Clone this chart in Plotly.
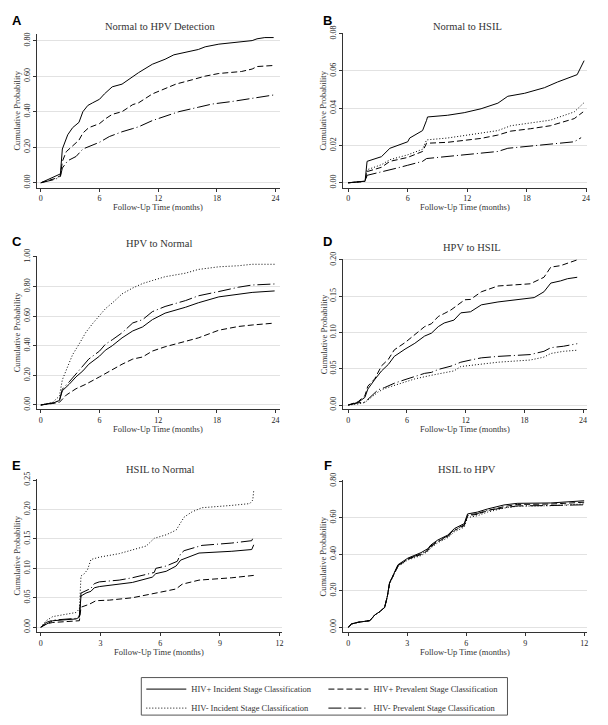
import plotly.graph_objects as go

# ---------------- DATA ----------------
series_names = ["HIV+ Incident Stage Classification", "HIV+ Prevalent Stage Classification",
                "HIV- Incident Stage Classification", "HIV- Prevalent Stage Classification"]
panel_titles = ["Normal to HPV Detection", "Normal to HSIL", "HPV to Normal",
                "HPV to HSIL", "HSIL to Normal", "HSIL to HPV"]
panel_letters = ["A", "B", "C", "D", "E", "F"]
x_title = "Follow-Up Time (months)"
y_title = "Cumulative Probability"

# Panel A: Normal to HPV Detection
a_pos_inc_x = [0, 0.5, 1.0, 1.5, 2.0, 2.2, 2.75, 3.25, 3.9, 4.3, 4.8, 5.3, 6.0, 6.5, 7.3, 8.3, 9.4, 10.0, 11.4, 12.7, 13.6, 16.1, 16.8, 18.2, 21.6, 22.1, 22.9, 23.8]
a_pos_inc_y = [0, 0.012, 0.028, 0.04, 0.05, 0.19, 0.27, 0.31, 0.34, 0.40, 0.435, 0.45, 0.47, 0.50, 0.54, 0.555, 0.60, 0.62, 0.667, 0.695, 0.72, 0.75, 0.765, 0.78, 0.80, 0.81, 0.817, 0.817]
a_pos_prev_x = [0, 0.5, 1.0, 1.5, 2.0, 2.2, 2.6, 3.1, 3.9, 4.3, 4.9, 6.0, 6.6, 7.3, 8.3, 9.4, 10.0, 11.4, 12.7, 13.8, 15.5, 16.8, 18.2, 20.5, 21.6, 22.1, 23.8]
a_pos_prev_y = [0, 0.008, 0.02, 0.025, 0.04, 0.12, 0.175, 0.20, 0.24, 0.28, 0.31, 0.333, 0.36, 0.385, 0.40, 0.44, 0.45, 0.50, 0.53, 0.555, 0.58, 0.60, 0.615, 0.626, 0.64, 0.654, 0.66]
a_neg_prev_x = [0, 0.5, 1.0, 1.5, 2.0, 2.2, 2.75, 3.6, 4.3, 4.9, 6.0, 7.0, 8.3, 9.4, 10.0, 11.4, 12.7, 14.1, 16.1, 17.5, 19.5, 21.6, 22.6, 23.8]
a_neg_prev_y = [0, 0.006, 0.016, 0.02, 0.035, 0.083, 0.124, 0.148, 0.19, 0.204, 0.228, 0.26, 0.287, 0.305, 0.315, 0.35, 0.376, 0.40, 0.425, 0.443, 0.457, 0.476, 0.487, 0.494]

# Panel B: Normal to HSIL
b_pos_inc_x = [0, 1.7, 1.9, 2.7, 3.35, 4.2, 5.0, 6.0, 6.2, 7.5, 7.9, 8.0, 10.0, 11.7, 13.4, 15.1, 16.1, 17.8, 19.8, 21.1, 23.1, 23.8]
b_pos_inc_y = [0, 0.0009, 0.0115, 0.0129, 0.014, 0.0185, 0.020, 0.022, 0.024, 0.028, 0.0335, 0.0353, 0.0362, 0.0376, 0.0397, 0.0427, 0.0464, 0.048, 0.051, 0.054, 0.058, 0.0655]
b_pos_prev_x = [0, 1.7, 1.9, 3.35, 4.2, 6.0, 7.5, 7.9, 10.0, 13.4, 15.1, 16.4, 18.4, 20.4, 22.8, 23.7]
b_pos_prev_y = [0, 0.0008, 0.006, 0.0083, 0.0115, 0.0136, 0.0168, 0.0212, 0.0217, 0.0238, 0.0256, 0.0277, 0.029, 0.0306, 0.0344, 0.038]
b_neg_inc_x = [0, 1.7, 1.9, 3.35, 4.2, 6.0, 7.5, 7.9, 10.0, 13.4, 15.1, 16.4, 18.4, 20.4, 22.8, 23.8]
b_neg_inc_y = [0, 0.0008, 0.007, 0.0097, 0.0124, 0.015, 0.018, 0.023, 0.024, 0.0265, 0.028, 0.0306, 0.032, 0.0336, 0.038, 0.043]
b_neg_prev_x = [0, 1.7, 1.9, 3.35, 5.0, 6.0, 7.5, 7.9, 10.0, 13.4, 15.1, 16.1, 18.4, 20.4, 22.8, 23.5]
b_neg_prev_y = [0, 0.0007, 0.004, 0.0057, 0.008, 0.0094, 0.0115, 0.013, 0.014, 0.016, 0.0168, 0.0185, 0.0198, 0.0207, 0.022, 0.0242]

# Panel C: HPV to Normal
c_pos_inc_x = [0, 0.6, 1.2, 1.9, 2.2, 2.9, 3.6, 4.3, 4.9, 6.0, 6.6, 7.3, 8.3, 9.4, 10.4, 11.4, 12.7, 14.8, 16.1, 18.2, 20.2, 21.6, 23.9]
c_pos_inc_y = [0, 0.005, 0.012, 0.03, 0.096, 0.14, 0.19, 0.23, 0.275, 0.33, 0.37, 0.40, 0.453, 0.50, 0.527, 0.576, 0.62, 0.66, 0.69, 0.73, 0.75, 0.76, 0.77]
c_pos_prev_x = [0, 0.6, 1.2, 1.9, 2.6, 3.6, 4.6, 6.0, 7.3, 8.3, 9.4, 10.4, 11.4, 12.7, 14.8, 16.1, 18.2, 20.2, 21.6, 23.9]
c_pos_prev_y = [0, 0.004, 0.01, 0.018, 0.067, 0.11, 0.14, 0.19, 0.24, 0.275, 0.31, 0.324, 0.364, 0.393, 0.43, 0.453, 0.505, 0.53, 0.54, 0.553]
c_neg_inc_x = [0, 0.6, 1.2, 1.9, 2.2, 2.75, 3.25, 3.9, 4.6, 5.3, 6.0, 6.6, 7.5, 8.3, 9.4, 10.4, 11.4, 12.7, 14.8, 16.1, 18.2, 20.2, 21.6, 23.9]
c_neg_inc_y = [0, 0.008, 0.018, 0.06, 0.17, 0.26, 0.34, 0.41, 0.49, 0.55, 0.60, 0.65, 0.70, 0.75, 0.79, 0.82, 0.84, 0.866, 0.89, 0.915, 0.933, 0.94, 0.95, 0.95]
c_neg_prev_x = [0, 0.6, 1.2, 1.9, 2.2, 2.9, 3.6, 4.3, 4.9, 6.0, 6.6, 7.3, 8.3, 9.4, 10.4, 11.4, 12.7, 14.8, 16.1, 18.2, 20.2, 21.6, 23.9]
c_neg_prev_y = [0, 0.006, 0.014, 0.03, 0.107, 0.156, 0.21, 0.26, 0.31, 0.364, 0.41, 0.44, 0.487, 0.554, 0.576, 0.63, 0.665, 0.705, 0.737, 0.766, 0.795, 0.81, 0.817]

# Panel D: HPV to HSIL
d_pos_inc_x = [0, 1.0, 1.7, 2.0, 2.7, 3.4, 4.1, 4.7, 5.8, 6.8, 7.8, 8.5, 9.2, 9.8, 10.8, 11.5, 12.5, 13.6, 15.3, 19.0, 20.0, 20.7, 21.7, 22.4, 23.4]
d_pos_inc_y = [0, 0.0036, 0.0105, 0.022, 0.035, 0.047, 0.056, 0.067, 0.077, 0.085, 0.095, 0.099, 0.108, 0.113, 0.117, 0.127, 0.1285, 0.138, 0.142, 0.148, 0.156, 0.168, 0.171, 0.174, 0.176]
d_pos_prev_x = [0, 1.0, 1.7, 2.0, 2.7, 3.4, 4.1, 4.7, 5.8, 6.8, 7.8, 8.5, 9.2, 9.8, 10.5, 11.2, 11.9, 12.5, 13.6, 15.3, 18.6, 20.0, 20.7, 21.7, 23.4]
d_pos_prev_y = [0, 0.0045, 0.013, 0.026, 0.036, 0.054, 0.063, 0.076, 0.086, 0.097, 0.108, 0.112, 0.122, 0.126, 0.131, 0.138, 0.145, 0.1455, 0.156, 0.164, 0.167, 0.176, 0.19, 0.192, 0.20]
d_neg_inc_x = [0, 1.0, 1.7, 2.4, 3.05, 3.7, 4.7, 5.8, 6.8, 8.5, 9.8, 10.8, 11.5, 12.5, 13.6, 15.3, 18.6, 20.0, 20.7, 22.0, 23.4]
d_neg_inc_y = [0, 0.0014, 0.0036, 0.0105, 0.018, 0.0227, 0.027, 0.032, 0.036, 0.041, 0.0445, 0.047, 0.053, 0.0545, 0.057, 0.059, 0.062, 0.066, 0.071, 0.074, 0.0755]
d_neg_prev_x = [0, 1.0, 1.7, 2.4, 3.05, 3.7, 4.7, 5.8, 6.8, 7.8, 8.5, 9.2, 10.5, 11.5, 12.5, 13.6, 15.3, 18.6, 20.0, 20.7, 22.0, 23.4]
d_neg_prev_y = [0, 0.003, 0.004, 0.0127, 0.021, 0.024, 0.030, 0.035, 0.039, 0.0436, 0.045, 0.049, 0.0536, 0.059, 0.062, 0.065, 0.067, 0.0695, 0.074, 0.079, 0.081, 0.0845]

# Panel E: HSIL to Normal
e_pos_inc_x = [0, 0.27, 0.6, 1.77, 1.94, 2.02, 2.27, 2.52, 2.69, 2.94, 4.6, 5.6, 5.78, 6.3, 6.8, 7.03, 7.95, 9.6, 10.6, 10.7]
e_pos_inc_y = [0, 0.0056, 0.011, 0.014, 0.017, 0.053, 0.058, 0.061, 0.067, 0.069, 0.076, 0.085, 0.091, 0.095, 0.104, 0.114, 0.126, 0.129, 0.132, 0.14]
e_pos_prev_x = [0, 0.27, 0.6, 1.94, 2.02, 2.44, 2.77, 3.44, 4.6, 5.6, 6.3, 6.8, 7.1, 7.95, 9.6, 10.7]
e_pos_prev_y = [0, 0.0056, 0.008, 0.011, 0.034, 0.039, 0.045, 0.046, 0.05, 0.056, 0.0615, 0.065, 0.073, 0.08, 0.084, 0.088]
e_neg_inc_x = [0, 0.27, 0.6, 1.27, 1.77, 1.94, 2.02, 2.19, 2.35, 2.52, 2.94, 3.94, 4.6, 5.3, 5.7, 6.3, 6.8, 7.2, 7.6, 8.1, 9.6, 10.5, 10.65, 10.7]
e_neg_inc_y = [0, 0.011, 0.018, 0.022, 0.025, 0.031, 0.087, 0.091, 0.098, 0.115, 0.119, 0.125, 0.131, 0.138, 0.151, 0.157, 0.165, 0.187, 0.196, 0.203, 0.207, 0.21, 0.216, 0.232]
e_neg_prev_x = [0, 0.27, 0.6, 1.77, 1.94, 2.02, 2.27, 2.52, 2.69, 2.94, 3.94, 4.6, 5.7, 5.78, 6.3, 6.86, 7.03, 7.2, 8.1, 9.6, 10.6, 10.7]
e_neg_prev_y = [0, 0.008, 0.012, 0.015, 0.02, 0.058, 0.062, 0.066, 0.074, 0.077, 0.08, 0.084, 0.093, 0.1, 0.104, 0.112, 0.125, 0.13, 0.139, 0.143, 0.147, 0.155]

# Panel F: HSIL to HPV
f_pos_inc_x = [0, 0.17, 0.5, 1.1, 1.35, 1.6, 1.85, 1.99, 2.1, 2.36, 2.53, 3.03, 3.3, 3.7, 4.05, 4.2, 4.55, 5.06, 5.4, 5.73, 5.9, 6.07, 6.57, 7.08, 7.92, 8.6, 10.3, 12.0]
f_pos_inc_y = [0, 0.018, 0.027, 0.036, 0.067, 0.085, 0.108, 0.17, 0.243, 0.306, 0.342, 0.378, 0.39, 0.408, 0.43, 0.45, 0.477, 0.504, 0.54, 0.558, 0.567, 0.62, 0.63, 0.647, 0.669, 0.678, 0.68, 0.692]
f_pos_prev_x = [0, 0.17, 0.5, 1.1, 1.35, 1.6, 1.85, 1.99, 2.1, 2.36, 2.53, 3.03, 3.3, 3.7, 4.05, 4.2, 4.55, 5.06, 5.4, 5.73, 5.9, 6.07, 6.57, 7.08, 7.92, 8.6, 10.3, 12.0]
f_pos_prev_y = [0, 0.018, 0.027, 0.036, 0.067, 0.085, 0.108, 0.17, 0.24, 0.30, 0.335, 0.372, 0.383, 0.398, 0.42, 0.44, 0.468, 0.496, 0.53, 0.55, 0.556, 0.61, 0.618, 0.638, 0.66, 0.672, 0.674, 0.684]
f_neg_inc_x = [0, 0.17, 0.5, 1.1, 1.35, 1.6, 1.85, 1.99, 2.1, 2.36, 2.53, 3.03, 3.3, 3.7, 4.05, 4.2, 4.55, 5.06, 5.4, 5.73, 5.9, 6.07, 6.57, 7.08, 7.92, 8.6, 10.3, 12.0]
f_neg_inc_y = [0, 0.018, 0.027, 0.036, 0.067, 0.085, 0.108, 0.168, 0.238, 0.298, 0.332, 0.368, 0.378, 0.392, 0.415, 0.434, 0.462, 0.49, 0.522, 0.54, 0.548, 0.60, 0.61, 0.63, 0.652, 0.662, 0.665, 0.675]
f_neg_prev_x = [0, 0.17, 0.5, 1.1, 1.35, 1.6, 1.85, 1.99, 2.1, 2.36, 2.53, 3.03, 3.3, 3.7, 4.05, 4.2, 4.55, 5.06, 5.4, 5.73, 5.9, 6.07, 6.57, 7.08, 7.92, 8.6, 10.3, 12.0]
f_neg_prev_y = [0, 0.018, 0.027, 0.036, 0.067, 0.085, 0.108, 0.17, 0.242, 0.303, 0.338, 0.374, 0.386, 0.402, 0.425, 0.444, 0.472, 0.5, 0.534, 0.552, 0.56, 0.615, 0.622, 0.64, 0.655, 0.664, 0.666, 0.67]

x_ticks_24 = [0, 6, 12, 18, 24]
x_ticks_12 = [0, 3, 6, 9, 12]
y_ticks_a = [0.0, 0.2, 0.4, 0.6, 0.8]
y_ticks_b = [0.0, 0.02, 0.04, 0.06, 0.08]
y_ticks_c = [0.0, 0.2, 0.4, 0.6, 0.8, 1.0]
y_ticks_d = [0.0, 0.05, 0.10, 0.15, 0.20]
y_ticks_e = [0.0, 0.05, 0.10, 0.15, 0.20, 0.25]
y_ticks_f = [0.0, 0.2, 0.4, 0.6, 0.8]

# ---------------- STYLE ----------------
W, H = 608, 725
SERIF = "Liberation Serif"
SANS = "Liberation Sans"
dash_styles = {0: "solid", 1: "6px,3px", 2: "1px,2px", 3: "13px,3px,1px,3px"}
legend_of = {0: "legend", 2: "legend", 1: "legend2", 3: "legend2"}

panels = [
    ([(0, a_pos_inc_x, a_pos_inc_y), (1, a_pos_prev_x, a_pos_prev_y), (3, a_neg_prev_x, a_neg_prev_y)],
     x_ticks_24, y_ticks_a, (37, 281), (27, 183), [-0.41, 24.41], [-0.0278, 0.839]),
    ([(0, b_pos_inc_x, b_pos_inc_y), (1, b_pos_prev_x, b_pos_prev_y), (2, b_neg_inc_x, b_neg_inc_y), (3, b_neg_prev_x, b_neg_prev_y)],
     x_ticks_24, y_ticks_b, (345, 590), (26, 183), [-0.50, 24.1], [-0.00265, 0.0805]),
    ([(0, c_pos_inc_x, c_pos_inc_y), (1, c_pos_prev_x, c_pos_prev_y), (2, c_neg_inc_x, c_neg_inc_y), (3, c_neg_prev_x, c_neg_prev_y)],
     x_ticks_24, y_ticks_c, (37, 281), (252, 407), [-0.41, 24.41], [-0.0267, 1.0067]),
    ([(0, d_pos_inc_x, d_pos_inc_y), (1, d_pos_prev_x, d_pos_prev_y), (2, d_neg_inc_x, d_neg_inc_y), (3, d_neg_prev_x, d_neg_prev_y)],
     x_ticks_24, y_ticks_d, (345, 590), (255, 407), [-0.51, 24.41], [-0.0054, 0.2014]),
    ([(0, e_pos_inc_x, e_pos_inc_y), (1, e_pos_prev_x, e_pos_prev_y), (2, e_neg_inc_x, e_neg_inc_y), (3, e_neg_prev_x, e_neg_prev_y)],
     x_ticks_12, y_ticks_e, (37, 283), (478, 633), [-0.2, 12.1], [-0.0084, 0.2517]),
    ([(0, f_pos_inc_x, f_pos_inc_y), (1, f_pos_prev_x, f_pos_prev_y), (2, f_neg_inc_x, f_neg_inc_y), (3, f_neg_prev_x, f_neg_prev_y)],
     x_ticks_12, y_ticks_f, (345, 590), (479, 633), [-0.253, 12.15], [-0.027, 0.8054]),
]

title_pos = [(161, 20), (470, 20), (160, 239), (474, 244), (161, 468), (469, 468)]
letter_pos = [(17, 14), (329, 14), (17, 237), (329, 237), (17, 464), (330, 464)]

fig = go.Figure()
layout = dict(
    width=W, height=H, margin=dict(l=0, r=0, t=0, b=0),
    paper_bgcolor="white", plot_bgcolor="white",
    font=dict(family=SERIF, size=8, color="#222"),
    showlegend=True,
)
annotations = []

for i, (series, xt, yt, xpx, ypx, xr, yr) in enumerate(panels):
    n = i + 1
    xa = "x" if n == 1 else f"x{n}"
    ya = "y" if n == 1 else f"y{n}"
    for idx, xs, ys in series:
        fig.add_trace(go.Scatter(
            x=xs, y=ys, mode="lines", xaxis=xa, yaxis=ya,
            name=series_names[idx], legend=legend_of[idx],
            showlegend=(n == 2), legendrank=idx + 1,
            line=dict(color="black", width=1, dash=dash_styles[idx]),
            hoverinfo="skip",
        ))
    xkey = "xaxis" if n == 1 else f"xaxis{n}"
    ykey = "yaxis" if n == 1 else f"yaxis{n}"
    layout[xkey] = dict(
        domain=[xpx[0] / W, xpx[1] / W], anchor=ya, range=xr,
        tickvals=xt, ticktext=[str(v) for v in xt],
        showgrid=False, zeroline=False, showline=True, linecolor="#333", linewidth=1,
        ticks="outside", ticklen=3, tickcolor="#333", tickwidth=1,
        tickfont=dict(family=SERIF, size=8, color="#222"),
    )
    layout[ykey] = dict(
        domain=[1 - ypx[1] / H, 1 - ypx[0] / H], anchor=xa, range=yr,
        tickvals=yt, tickformat=".2f", tickangle=-90,
        showgrid=True, gridcolor="#e2e2e2", gridwidth=1,
        zeroline=False, showline=True, linecolor="#333", linewidth=1,
        ticks="outside", ticklen=3, tickcolor="#333", tickwidth=1,
        tickfont=dict(family=SERIF, size=8, color="#222"),
    )
    tx, ty = title_pos[i]
    annotations.append(dict(text=panel_titles[i], x=tx / W, y=1 - ty / H, xref="paper", yref="paper",
                            showarrow=False, xanchor="center", yanchor="middle",
                            font=dict(family=SERIF, size=10.5, color="#333")))
    lx, ly = letter_pos[i]
    annotations.append(dict(text="<b>" + panel_letters[i] + "</b>", x=lx / W, y=1 - ly / H,
                            xref="paper", yref="paper", showarrow=False,
                            xanchor="center", yanchor="middle",
                            font=dict(family=SANS, size=13, color="black")))
    cx = (xpx[0] + xpx[1]) / 2
    annotations.append(dict(text=x_title, x=cx / W, y=1 - (ypx[1] + 20) / H, xref="paper", yref="paper",
                            showarrow=False, xanchor="center", yanchor="middle",
                            font=dict(family=SERIF, size=8.5, color="#333")))
    cy = (ypx[0] + ypx[1]) / 2
    annotations.append(dict(text=y_title, x=(xpx[0] - 20) / W, y=1 - cy / H, xref="paper", yref="paper",
                            showarrow=False, xanchor="center", yanchor="middle", textangle=-90,
                            font=dict(family=SERIF, size=8.5, color="#333")))

layout["annotations"] = annotations
legend_common = dict(
    orientation="v", xanchor="left", yanchor="top",
    borderwidth=0, bgcolor="rgba(0,0,0,0)",
    font=dict(family=SERIF, size=8.5, color="#333"),
    tracegroupgap=0, itemwidth=40, traceorder="normal",
)
layout["legend"] = dict(x=142 / W, y=1 - 676 / H, **legend_common)
layout["legend2"] = dict(x=325 / W, y=1 - 676 / H, **legend_common)
layout["shapes"] = [dict(type="rect", xref="paper", yref="paper",
                         x0=142 / W, x1=510 / W, y0=1 - 717 / H, y1=1 - 679 / H,
                         line=dict(color="#555", width=1), fillcolor="rgba(0,0,0,0)")]
fig.update_layout(**layout)
fig.write_html("out.html", config={"displayModeBar": False},
               post_script="document.body.style.margin='0';document.body.style.padding='0';")
